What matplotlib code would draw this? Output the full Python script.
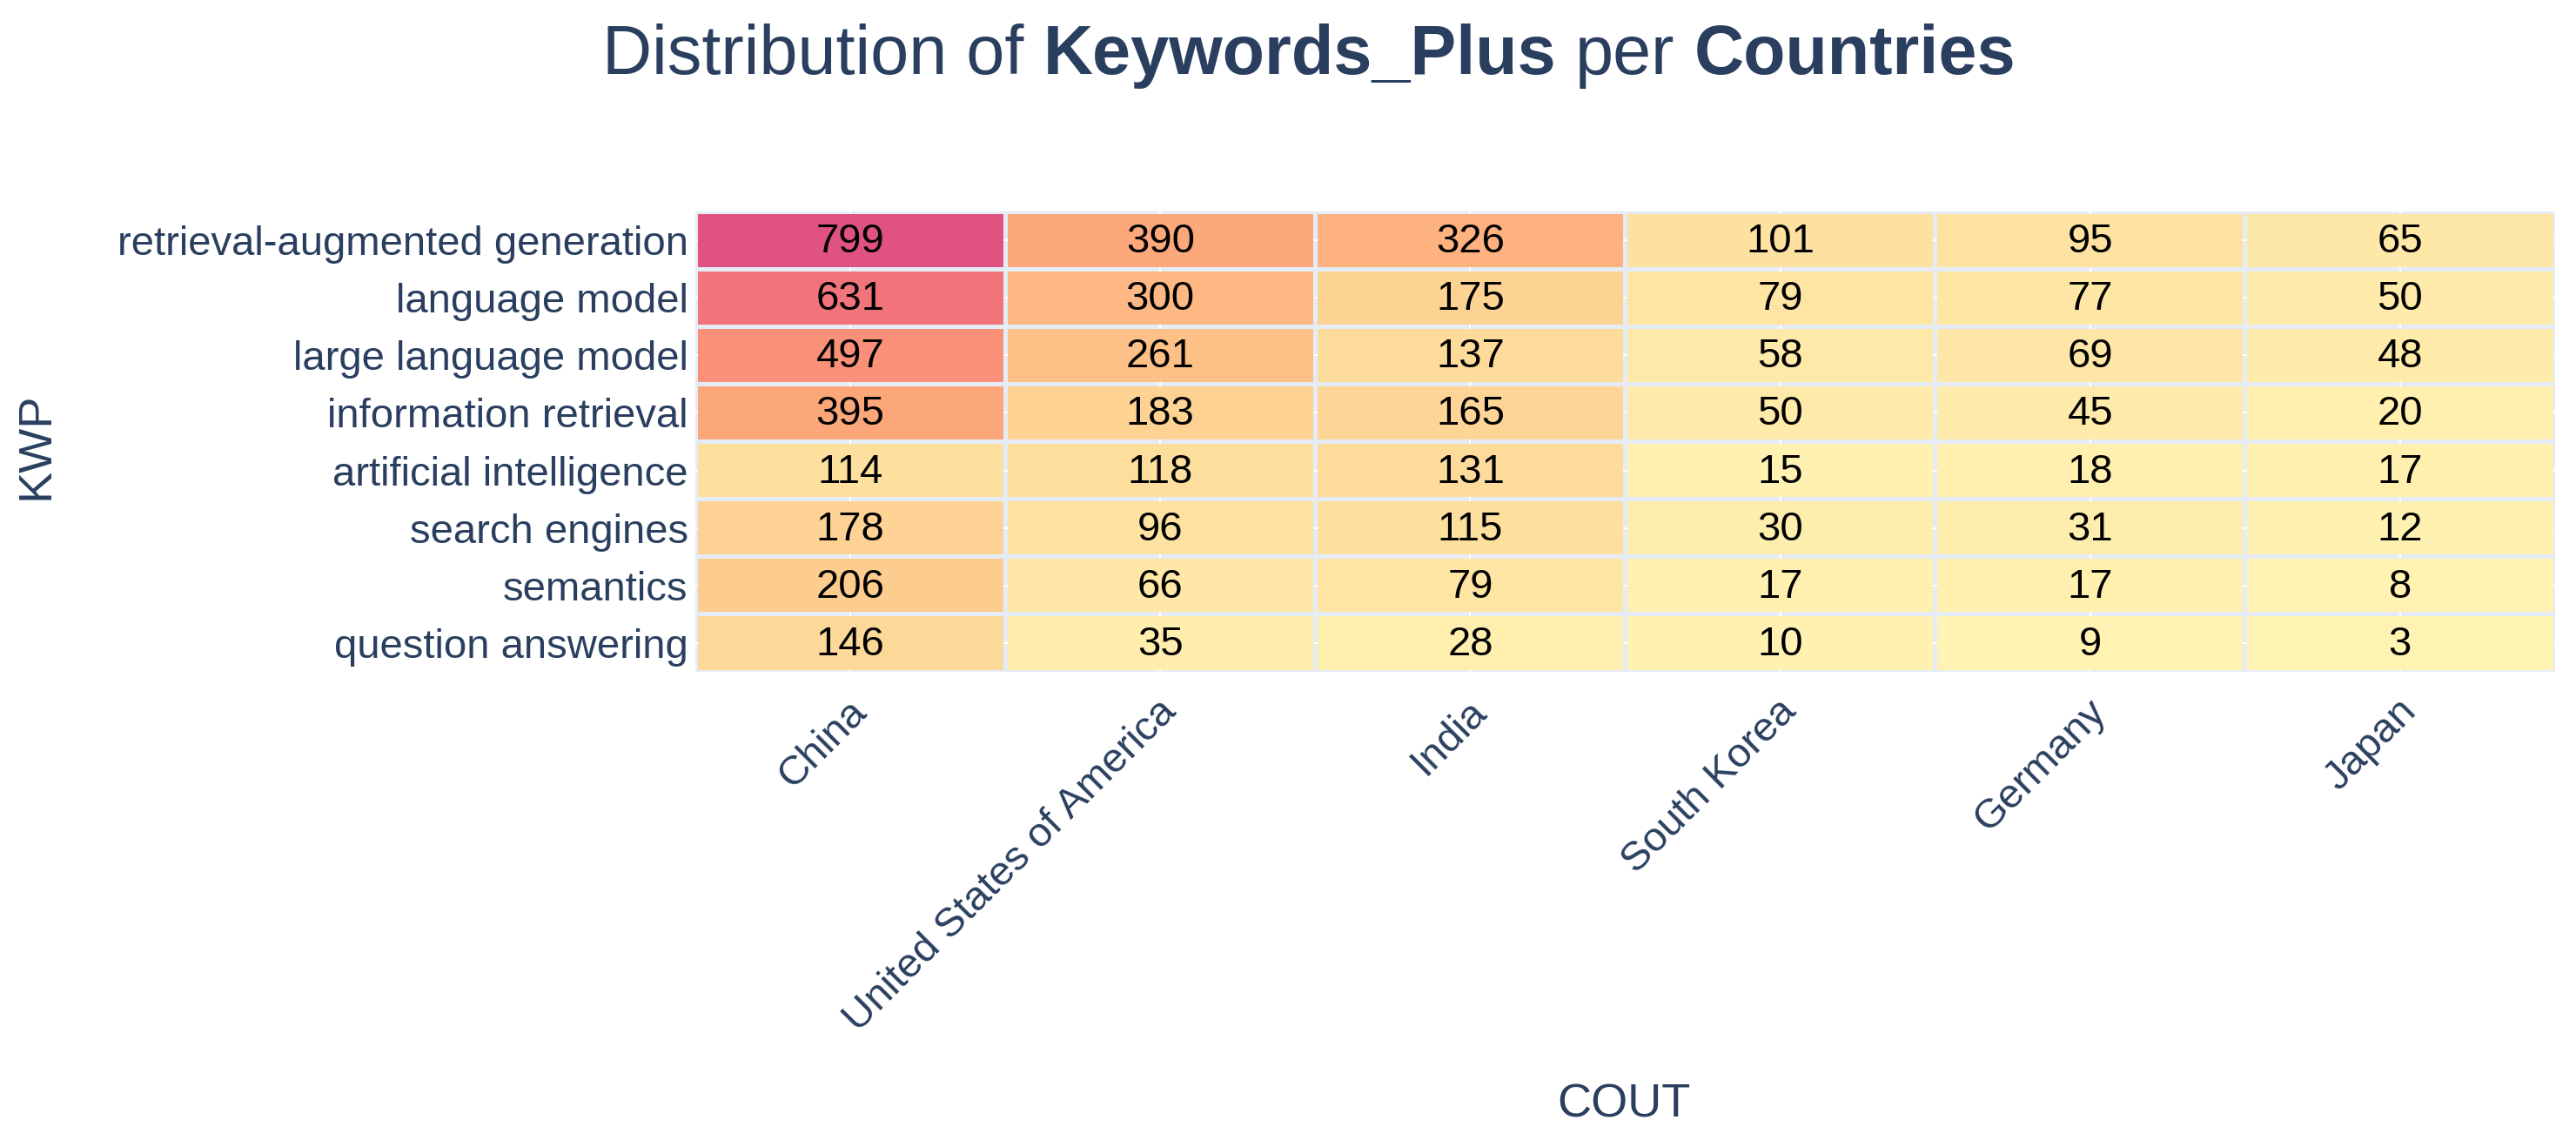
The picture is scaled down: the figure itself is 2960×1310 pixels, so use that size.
import numpy as np
import matplotlib
matplotlib.use("Agg")
import matplotlib.pyplot as plt
from matplotlib.colors import LinearSegmentedColormap, Normalize
from matplotlib.patches import Rectangle
from matplotlib.transforms import ScaledTranslation

plt.rcParams['font.family'] = ['Liberation Sans', 'DejaVu Sans']

# data
keywords = ["retrieval-augmented generation", "language model", "large language model",
            "information retrieval", "artificial intelligence", "search engines",
            "semantics", "question answering"]
countries = ["China", "United States of America", "India", "South Korea", "Germany", "Japan"]
counts = [
    [799, 390, 326, 101, 95, 65],
    [631, 300, 175, 79, 77, 50],
    [497, 261, 137, 58, 69, 48],
    [395, 183, 165, 50, 45, 20],
    [114, 118, 131, 15, 18, 17],
    [178, 96, 115, 30, 31, 12],
    [206, 66, 79, 17, 17, 8],
    [146, 35, 28, 10, 9, 3],
]

TXT = "#2a3f5f"
BG = "#e5ecf6"
W, H, DPI = 2960, 1310, 100

# colour ramp (pale yellow -> pink)
cmap = LinearSegmentedColormap.from_list("kw", [
    (0.00, "#fff3b3"),
    (0.14, "#fddf9e"),
    (0.26, "#fdcd8f"),
    (0.41, "#fdb27f"),
    (0.49, "#fca87a"),
    (0.62, "#f99177"),
    (0.79, "#f07479"),
    (1.00, "#e0527f"),
])

z = np.array(counts)
norm = Normalize(vmin=0, vmax=z.max())

fig = plt.figure(figsize=(W / DPI, H / DPI), dpi=DPI)
left, right, top, bottom = 799, 2936, 243, 772
ax = fig.add_axes([left / W, 1 - bottom / H, (right - left) / W, (bottom - top) / H])
ax.set_facecolor(BG)

nr, nc = z.shape
ax.set_xlim(-0.5, nc - 0.5)
ax.set_ylim(nr - 0.5, -0.5)

# gaps between cells, in pixels -> data units
gap_px = 5
gx = gap_px / ((right - left) / nc)
gy = gap_px / ((bottom - top) / nr)

for j in range(nc):
    ax.axvline(j, color="white", lw=1.5, zorder=0)
for i in range(nr):
    ax.axhline(i, color="white", lw=1.5, zorder=0)

for i in range(nr):
    for j in range(nc):
        ax.add_patch(Rectangle((j - 0.5 + gx / 2, i - 0.5 + gy / 2), 1 - gx, 1 - gy,
                               facecolor=cmap(norm(z[i, j])), edgecolor="none", zorder=1))
        ax.text(j, i + 0.03, str(z[i, j]), ha="center", va="center", fontsize=34,
                color="black", zorder=2)

ax.set_yticks(range(nr))
ax.set_yticklabels(keywords, fontsize=34, color=TXT)
ax.set_xticks(range(nc))
ax.set_xticklabels(countries, fontsize=34, color=TXT, rotation=45,
                   ha="right", va="center", rotation_mode="anchor")
ax.tick_params(axis="both", length=0)
ax.tick_params(axis="y", pad=6)
ax.tick_params(axis="x", pad=28)
shift = ScaledTranslation(12 / DPI, 0, fig.dpi_scale_trans)
for lab in ax.get_xticklabels():
    lab.set_transform(lab.get_transform() + shift)
for s in ax.spines.values():
    s.set_visible(False)

fig.text(41 / W, 1 - 512 / H, "KWP", rotation=90, ha="center", va="center",
         fontsize=39, color=TXT)
fig.text(1866 / W, 1 - 1269 / H, "COUT", ha="center", va="center",
         fontsize=39, color=TXT)

# title with bold parts
pieces = [("Distribution of", "normal"), ("Keywords_Plus", "bold"),
          ("per", "normal"), ("Countries", "bold")]
renderer = fig.canvas.get_renderer()
tsize = 57
probe1 = fig.text(0, 0, "a a", fontsize=tsize)
probe2 = fig.text(0, 0, "aa", fontsize=tsize)
space = probe1.get_window_extent(renderer).width - probe2.get_window_extent(renderer).width
probe1.remove()
probe2.remove()
texts = [fig.text(0, 1 - 64 / H, s, fontsize=tsize, fontweight=w, color=TXT,
                  ha="left", va="center") for s, w in pieces]
widths = [t.get_window_extent(renderer).width for t in texts]
total = sum(widths) + space * (len(pieces) - 1)
x = 1504 - total / 2
for t, wd in zip(texts, widths):
    t.set_x(x / W)
    x += wd + space

fig.savefig("out.png", dpi=DPI, facecolor="white")
